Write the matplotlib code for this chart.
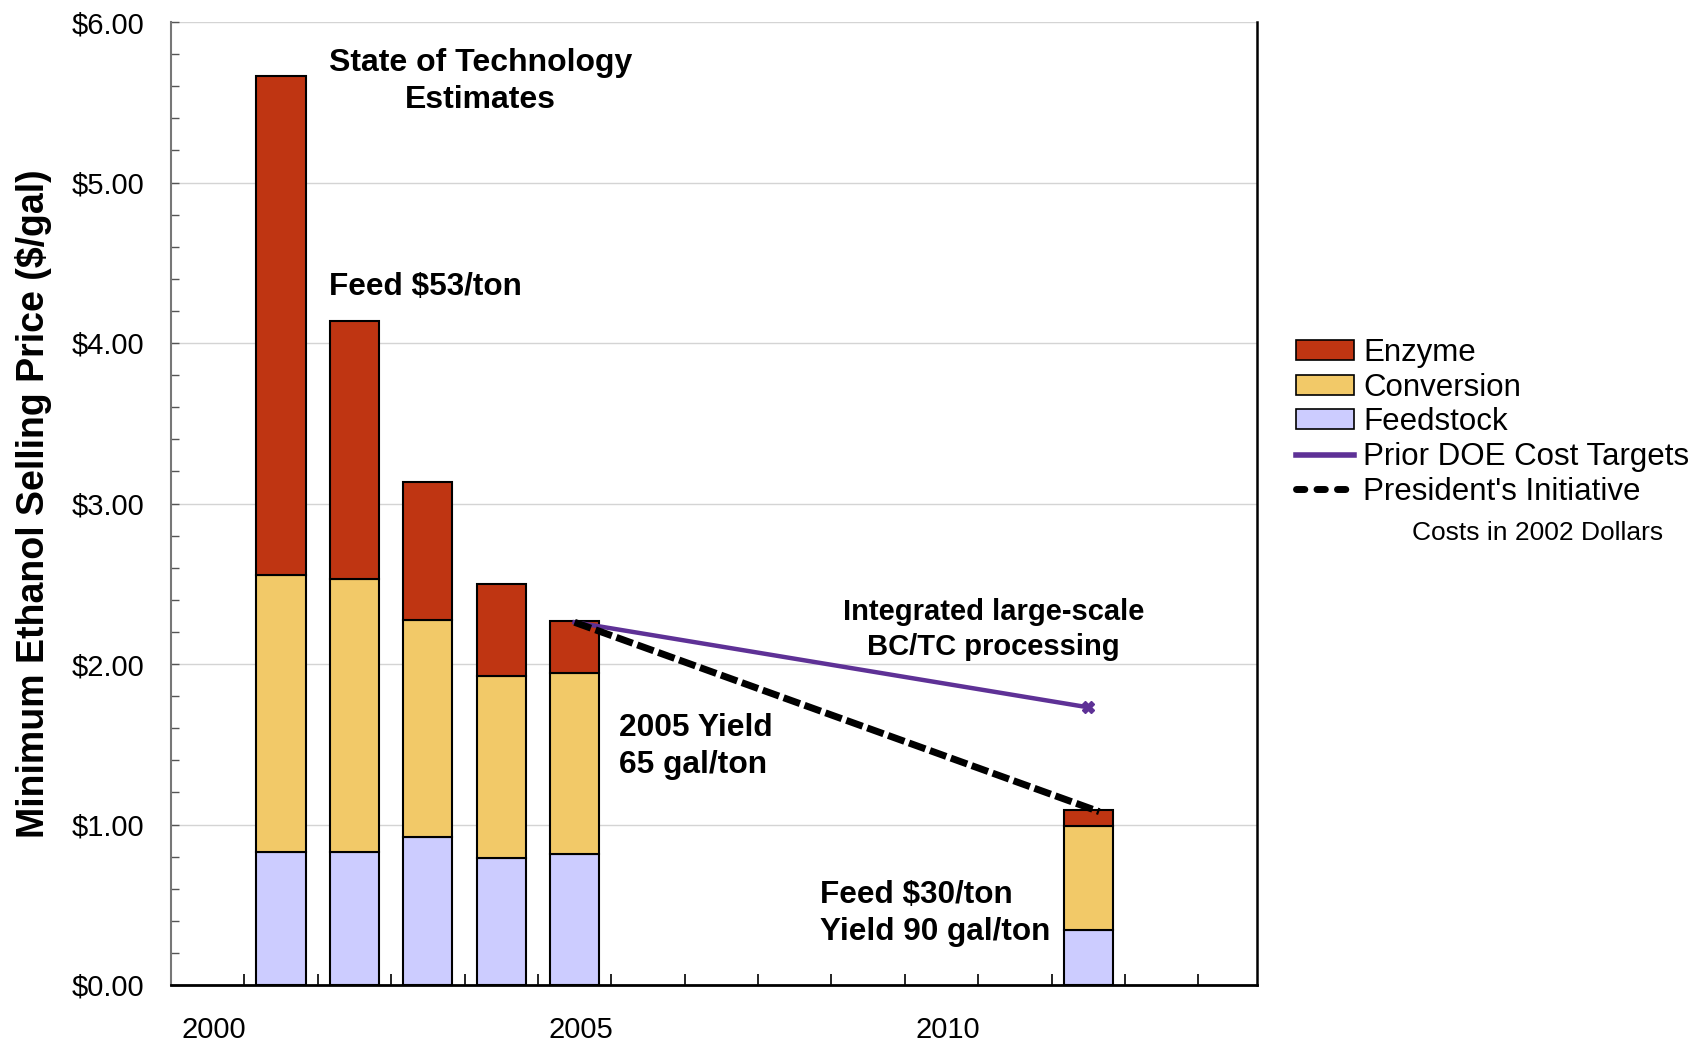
import matplotlib
matplotlib.use('Agg')
import matplotlib.pyplot as plt
from matplotlib.patches import Patch
from matplotlib.lines import Line2D
from matplotlib.ticker import FixedLocator, MultipleLocator

plt.rcParams['font.family'] = ['Liberation Sans', 'DejaVu Sans']

# ---------------- data ----------------
years = [2001, 2002, 2003, 2004, 2005, 2012]
feedstock = [0.83, 0.83, 0.92, 0.79, 0.815, 0.34]
conversion = [1.725, 1.70, 1.355, 1.135, 1.13, 0.65]
enzyme = [3.11, 1.61, 0.86, 0.575, 0.325, 0.10]

doe_years = [2005, 2012]
doe_targets = [2.26, 1.73]
pres_years = [2005, 2012.15]
pres_targets = [2.26, 1.08]

ytick_values = [0, 1, 2, 3, 4, 5, 6]
ytick_labels = ['\\$0.00', '\\$1.00', '\\$2.00', '\\$3.00', '\\$4.00', '\\$5.00', '\\$6.00']
xlabel_years = [2000, 2005, 2010]
xlabel_texts = ['2000', '2005', '2010']
xtick_positions = [y + 0.5 for y in range(2000, 2014)]

series_names = ['Enzyme', 'Conversion', 'Feedstock',
                'Prior DOE Cost Targets', "President's Initiative"]

# ---------------- style ----------------
c_enz = '#BF3512'
c_conv = '#F2C968'
c_feed = '#CCCCFF'
c_purple = '#5E3196'

fig = plt.figure(figsize=(17.04, 10.41), dpi=100)
ax = fig.add_axes([171/1704, 1 - 985/1041, (1257-171)/1704, (985-22)/1041])

bw = 0.67
bottoms2 = [f + c for f, c in zip(feedstock, conversion)]
ax.bar(years, feedstock, width=bw, color=c_feed, edgecolor='black', linewidth=1.5, zorder=3)
ax.bar(years, conversion, width=bw, bottom=feedstock, color=c_conv, edgecolor='black', linewidth=1.5, zorder=3)
ax.bar(years, enzyme, width=bw, bottom=bottoms2, color=c_enz, edgecolor='black', linewidth=1.5, zorder=3)

ax.plot(doe_years, doe_targets, color=c_purple, lw=3.2, marker='X', markersize=9,
        markevery=[1], zorder=4)
ax.plot(pres_years, pres_targets, color='black', lw=5.0, ls=(0, (2.5, 0.7)),
        dash_capstyle='butt', zorder=5)

ax.set_xlim(1999.5, 2014.3)
ax.set_ylim(0, 6)

# y axis
ax.yaxis.set_major_locator(FixedLocator(ytick_values))
ax.set_yticklabels(ytick_labels, fontsize=21)
ax.yaxis.set_minor_locator(MultipleLocator(0.2))
ax.tick_params(axis='y', which='both', direction='in', length=6, width=1, color='#555555', pad=19)
ax.yaxis.grid(True, which='major', color='#D4D4D4', lw=1.0, zorder=0)

# x axis: ticks between categories, labels on categories
ax.xaxis.set_major_locator(FixedLocator(xtick_positions))
ax.xaxis.set_major_formatter(plt.NullFormatter())
ax.xaxis.set_minor_locator(FixedLocator([y + 0.08 for y in xlabel_years]))
ax.set_xticklabels(xlabel_texts, minor=True, fontsize=21)
ax.tick_params(axis='x', which='major', direction='in', length=8, width=1.2, color='black')
ax.tick_params(axis='x', which='minor', length=0, pad=22)

ax.spines['top'].set_visible(False)
ax.spines['left'].set_color('#777777')
ax.spines['left'].set_linewidth(1.5)
ax.spines['right'].set_color('black')
ax.spines['right'].set_linewidth(1.8)
ax.spines['bottom'].set_color('black')
ax.spines['bottom'].set_linewidth(2.0)

ax.set_ylabel('Minimum Ethanol Selling Price (\\$/gal)', fontsize=27, fontweight='bold', va='center')
ax.yaxis.set_label_coords(-0.127, 0.5)

# annotations
ax.text(2003.72, 5.84, 'State of Technology\nEstimates', ha='center', va='top',
        fontsize=23, fontweight='bold', linespacing=1.31, zorder=6)
ax.text(2001.65, 4.445, 'Feed \\$53/ton', ha='left', va='top',
        fontsize=22.7, fontweight='bold', zorder=6)
ax.text(2010.71, 2.41, 'Integrated large-scale\nBC/TC processing', ha='center', va='top',
        fontsize=21, fontweight='bold', linespacing=1.3, zorder=6)
ax.text(2005.6, 1.695, '2005 Yield\n65 gal/ton', ha='left', va='top',
        fontsize=22.9, fontweight='bold', linespacing=1.3, zorder=6)
ax.text(2008.35, 0.654, 'Feed \\$30/ton\nYield 90 gal/ton', ha='left', va='top',
        fontsize=22.7, fontweight='bold', linespacing=1.3, zorder=6)

# legend
handles = [
    Patch(facecolor=c_enz, edgecolor='black', linewidth=1.2, label=series_names[0]),
    Patch(facecolor=c_conv, edgecolor='black', linewidth=1.2, label=series_names[1]),
    Patch(facecolor=c_feed, edgecolor='black', linewidth=1.2, label=series_names[2]),
    Line2D([], [], color=c_purple, lw=4, label=series_names[3]),
    Line2D([], [], color='black', lw=5, ls=(0, (1.2, 1.75)), dash_capstyle='round', label=series_names[4]),
]
fig.legend(handles=handles, loc='upper left', bbox_to_anchor=(1296/1704, 1 - 338/1041),
           frameon=False, fontsize=22.5, labelspacing=0.15, handlelength=1.85,
           handleheight=0.6, handletextpad=0.3, borderpad=0, borderaxespad=0)

fig.text(1538/1704, 1 - 521/1041, 'Costs in 2002 Dollars', ha='center', va='top', fontsize=19)

fig.savefig('out.png', dpi=100)
